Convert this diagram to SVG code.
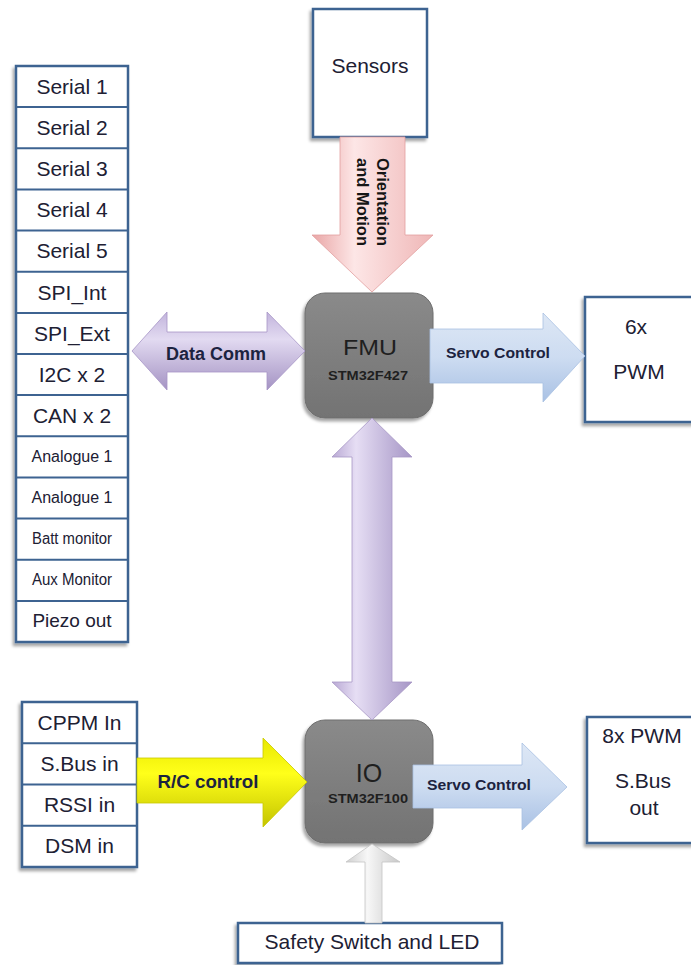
<svg xmlns="http://www.w3.org/2000/svg" width="691" height="965" viewBox="0 0 691 965">
<defs>
<style>
.box{fill:#fff;stroke:#3d6391;stroke-width:2.5}
.lbl{font-family:"Liberation Sans",Arial,sans-serif;font-size:21px;fill:#202033;text-anchor:middle}
.alb{font-family:"Liberation Sans",Arial,sans-serif;font-weight:bold;fill:#1c2340;text-anchor:middle}
.chip{fill:url(#gChip);stroke:#6e6e6e;stroke-width:1}
.chipt{font-family:"Liberation Sans",Arial,sans-serif;fill:#1f1f1f;text-anchor:middle}
</style>
<filter id="sh" x="-20%" y="-20%" width="140%" height="140%">
<feDropShadow dx="-2" dy="3" stdDeviation="1.5" flood-color="#000" flood-opacity="0.35"/>
</filter>
<linearGradient id="gChip" x1="0" y1="0" x2="0" y2="1">
<stop offset="0" stop-color="#8a8a8a"/><stop offset="1" stop-color="#737373"/>
</linearGradient>
<linearGradient id="gPink" x1="0" y1="0" x2="1" y2="0">
<stop offset="0" stop-color="#e9a6a6"/><stop offset="0.35" stop-color="#fde6e6"/><stop offset="1" stop-color="#efb7b7"/>
</linearGradient>
<linearGradient id="gPurH" x1="0" y1="0" x2="0" y2="1">
<stop offset="0" stop-color="#c2b4dc"/><stop offset="0.35" stop-color="#e2daf1"/><stop offset="1" stop-color="#a493c3"/>
</linearGradient>
<linearGradient id="gPurV" x1="0" y1="0" x2="1" y2="0">
<stop offset="0" stop-color="#b9a9d4"/><stop offset="0.3" stop-color="#e6def4"/><stop offset="1" stop-color="#a696c6"/>
</linearGradient>
<linearGradient id="gBlue" x1="0" y1="0" x2="0" y2="1">
<stop offset="0" stop-color="#dde7f5"/><stop offset="0.5" stop-color="#cddcf1"/><stop offset="1" stop-color="#a9c1e4"/>
</linearGradient>
<linearGradient id="gYel" x1="0" y1="0" x2="0" y2="1">
<stop offset="0" stop-color="#e8e800"/><stop offset="0.4" stop-color="#ffff1a"/><stop offset="1" stop-color="#c4c400"/>
</linearGradient>
<linearGradient id="gGray" x1="0" y1="0" x2="1" y2="0">
<stop offset="0" stop-color="#cfcfcf"/><stop offset="0.4" stop-color="#f7f7f7"/><stop offset="1" stop-color="#c8c8c8"/>
</linearGradient>
</defs>
<rect width="691" height="965" fill="#fff"/>

<g id="ports">
<rect class="box" x="16" y="66" width="112" height="576" filter="url(#sh)"/>
<g stroke="#3d6391" stroke-width="2">
<line x1="16" y1="107.1" x2="128" y2="107.1"/><line x1="16" y1="148.3" x2="128" y2="148.3"/>
<line x1="16" y1="189.4" x2="128" y2="189.4"/><line x1="16" y1="230.6" x2="128" y2="230.6"/>
<line x1="16" y1="271.7" x2="128" y2="271.7"/><line x1="16" y1="312.9" x2="128" y2="312.9"/>
<line x1="16" y1="354" x2="128" y2="354"/><line x1="16" y1="395.1" x2="128" y2="395.1"/>
<line x1="16" y1="436.3" x2="128" y2="436.3"/><line x1="16" y1="477.4" x2="128" y2="477.4"/>
<line x1="16" y1="518.6" x2="128" y2="518.6"/><line x1="16" y1="559.7" x2="128" y2="559.7"/>
<line x1="16" y1="600.9" x2="128" y2="600.9"/>
</g>
<text class="lbl" x="72" y="94">Serial 1</text>
<text class="lbl" x="72" y="135">Serial 2</text>
<text class="lbl" x="72" y="176">Serial 3</text>
<text class="lbl" x="72" y="217">Serial 4</text>
<text class="lbl" x="72" y="258">Serial 5</text>
<text class="lbl" x="72" y="300">SPI_Int</text>
<text class="lbl" x="72" y="341">SPI_Ext</text>
<text class="lbl" x="72" y="382">I2C x 2</text>
<text class="lbl" x="72" y="423">CAN x 2</text>
<text class="lbl" x="72" y="462" style="font-size:16px">Analogue 1</text>
<text class="lbl" x="72" y="503" style="font-size:16px">Analogue 1</text>
<text class="lbl" x="72" y="544" style="font-size:16px" textLength="80" lengthAdjust="spacingAndGlyphs">Batt monitor</text>
<text class="lbl" x="72" y="585" style="font-size:16px" textLength="80" lengthAdjust="spacingAndGlyphs">Aux Monitor</text>
<text class="lbl" x="72" y="627" style="font-size:19px">Piezo out</text>
</g>

<g id="rcin">
<rect class="box" x="22" y="702" width="115" height="165" filter="url(#sh)"/>
<g stroke="#3d6391" stroke-width="2">
<line x1="22" y1="743.3" x2="137" y2="743.3"/><line x1="22" y1="784.5" x2="137" y2="784.5"/><line x1="22" y1="825.8" x2="137" y2="825.8"/>
</g>
<text class="lbl" x="79.5" y="730">CPPM In</text>
<text class="lbl" x="79.5" y="771">S.Bus in</text>
<text class="lbl" x="79.5" y="812">RSSI in</text>
<text class="lbl" x="79.5" y="853">DSM in</text>
</g>

<g id="sensors">
<rect class="box" x="313" y="9" width="114" height="128" filter="url(#sh)"/>
<text class="lbl" x="370" y="73">Sensors</text>
</g>

<g id="pwm6">
<rect class="box" x="585" y="297" width="120" height="125" filter="url(#sh)"/>
<text class="lbl" x="636" y="334">6x</text>
<text class="lbl" x="639" y="379">PWM</text>
</g>

<g id="pwm8">
<rect class="box" x="587" y="717" width="120" height="126" filter="url(#sh)"/>
<text class="lbl" x="642" y="743">8x PWM</text>
<text class="lbl" x="643" y="788">S.Bus</text>
<text class="lbl" x="644" y="815">out</text>
</g>

<g id="safety">
<rect class="box" x="238" y="923" width="264" height="40" filter="url(#sh)"/>
<text class="lbl" x="372" y="949">Safety Switch and LED</text>
</g>

<g id="fmu">
<rect class="chip" x="305" y="293" width="128" height="125" rx="20" filter="url(#sh)"/>
<text class="chipt" x="370" y="355" style="font-size:22px" textLength="54" lengthAdjust="spacingAndGlyphs">FMU</text>
<text class="chipt" x="368" y="380" style="font-size:12px;font-weight:bold" textLength="80" lengthAdjust="spacingAndGlyphs">STM32F427</text>
</g>

<g id="io">
<rect class="chip" x="305" y="720" width="128" height="123" rx="20" filter="url(#sh)"/>
<text class="chipt" x="369" y="782" style="font-size:25px">IO</text>
<text class="chipt" x="368" y="803" style="font-size:12px;font-weight:bold" textLength="80" lengthAdjust="spacingAndGlyphs">STM32F100</text>
</g>

<g id="connectors">
<g id="orient">
<polygon points="340,137 405,137 405,235 433,235 372,292 312,235 340,235" fill="url(#gPink)" stroke="#e2a0a0" stroke-width="0.8"/>
<text class="alb" style="font-size:16px;text-anchor:start;fill:#151515" transform="translate(377,158) rotate(90)" textLength="88" lengthAdjust="spacingAndGlyphs">Orientation</text>
<text class="alb" style="font-size:16px;text-anchor:start;fill:#151515" transform="translate(357,158) rotate(90)" textLength="88" lengthAdjust="spacingAndGlyphs">and Motion</text>
</g>
<g id="datacomm">
<polygon points="132,351 167,312 167,332 267,332 267,312 305,351 267,390 267,372 167,372 167,390" fill="url(#gPurH)" stroke="#a796c6" stroke-width="0.8"/>
<text class="alb" x="216" y="360" style="font-size:18px" textLength="100" lengthAdjust="spacingAndGlyphs">Data Comm</text>
</g>
<g id="servo1">
<polygon points="430,329 543,329 543,313 585,356 543,402 543,383 430,383" fill="url(#gBlue)" stroke="#a8c0e2" stroke-width="0.8"/>
<text class="alb" x="498" y="358" style="font-size:15px" textLength="104" lengthAdjust="spacingAndGlyphs">Servo Control</text>
</g>
<g id="fmuio">
<polygon points="372,418 412,457 392,457 392,682 412,682 372,720 332,682 352,682 352,457 332,457" fill="url(#gPurV)" stroke="#a797c5" stroke-width="0.8"/>
</g>
<g id="rc">
<polygon points="137,758 263,758 263,738 307,782 263,827 263,803 137,803" fill="url(#gYel)" stroke="#c8c800" stroke-width="0.8"/>
<text class="alb" x="208" y="788" style="font-size:18px" textLength="101" lengthAdjust="spacingAndGlyphs">R/C control</text>
</g>
<g id="servo2">
<polygon points="413,765 522,765 522,743 567,787 522,830 522,808 413,808" fill="url(#gBlue)" stroke="#a8c0e2" stroke-width="0.8"/>
<text class="alb" x="479" y="790" style="font-size:15px" textLength="104" lengthAdjust="spacingAndGlyphs">Servo Control</text>
</g>
<g id="safetyarrow">
<polygon points="372,844 400,862 382,862 382,923 365,923 365,862 346,862" fill="url(#gGray)" stroke="#c4c4c4" stroke-width="0.8"/>
</g>
</g>
</svg>
